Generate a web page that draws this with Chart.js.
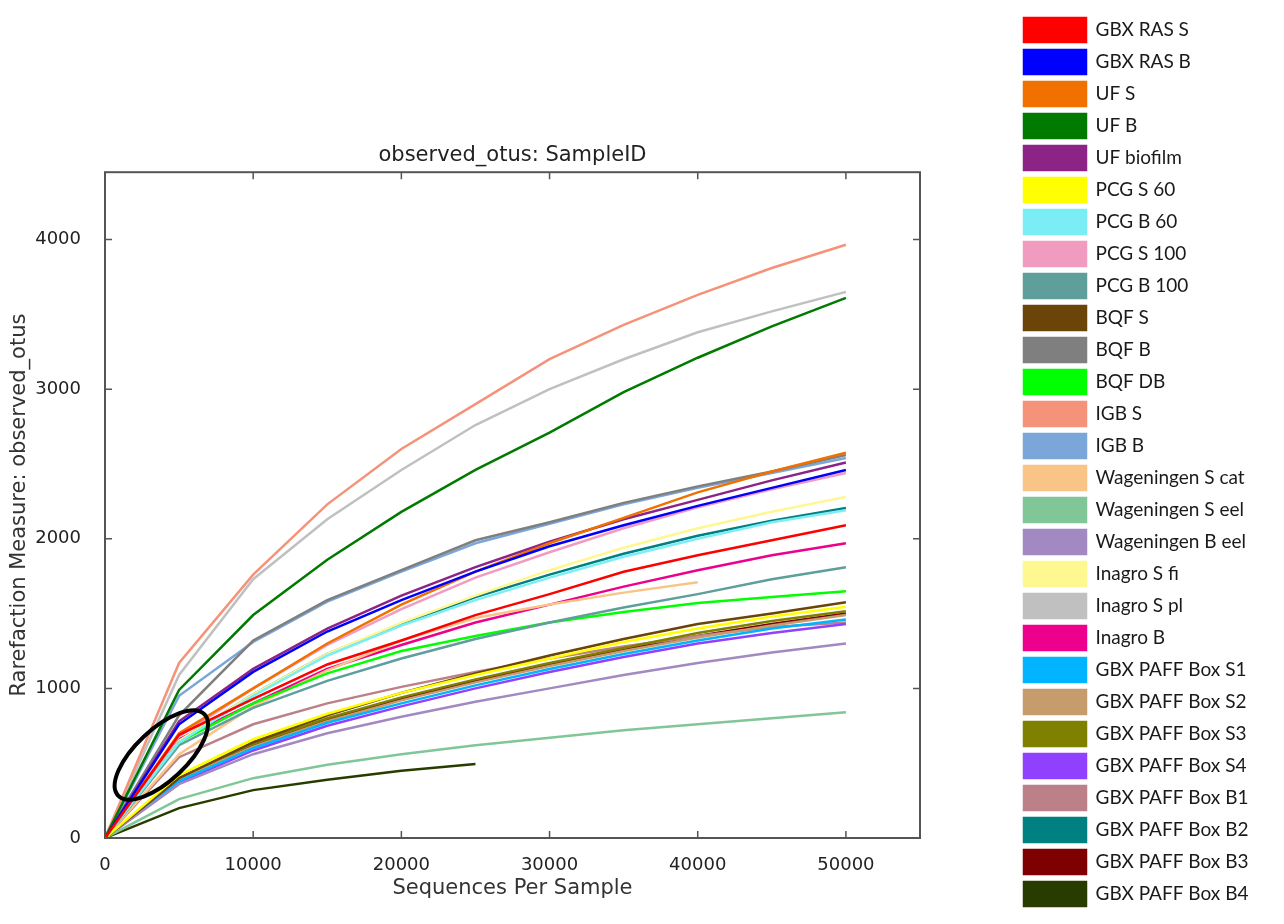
<!DOCTYPE html>
<html>
<head>
<meta charset="utf-8">
<title>observed_otus: SampleID</title>
<script src="https://cdn.jsdelivr.net/npm/chart.js@4.4.1/dist/chart.umd.min.js"></script>
<style>
    html, body { margin: 0; padding: 0; background: #fff; }
    #wrap { width: 1284px; height: 924px; position: relative; }
</style>
</head>
<body>
<div id="wrap"><canvas id="rarefaction"></canvas></div>
<script>
// --- Data ---
const seqDepth = [0, 5000, 10000, 15000, 20000, 25000, 30000, 35000, 40000, 45000, 50000];

const sampleNames = [
    'GBX RAS S', 'GBX RAS B', 'UF S', 'UF B', 'UF biofilm', 'PCG S 60', 'PCG B 60',
    'PCG S 100', 'PCG B 100', 'BQF S', 'BQF B', 'BQF DB', 'IGB S', 'IGB B',
    'Wageningen S cat', 'Wageningen S eel', 'Wageningen B eel', 'Inagro S fi',
    'Inagro S pl', 'Inagro B', 'GBX PAFF Box S1', 'GBX PAFF Box S2', 'GBX PAFF Box S3',
    'GBX PAFF Box S4', 'GBX PAFF Box B1', 'GBX PAFF Box B2', 'GBX PAFF Box B3', 'GBX PAFF Box B4'
];

const sampleColors = [
    '#ff0000', '#0000ff', '#f07000', '#007b00', '#8b2486', '#ffff00', '#7beef5',
    '#f29bc1', '#5e9e9b', '#6b4409', '#7f7f7f', '#00ff00', '#f5937a', '#7aa6d9',
    '#fac487', '#80c697', '#a389c2', '#fff78f', '#c0c0c0', '#ec008c',
    '#00b4ff', '#c69c6d', '#808000', '#9040ff', '#bc8088', '#008080', '#7f0000', '#283c00'
];

// observed OTUs per sample, one value per depth in seqDepth
const gbxRasS      = [0, 690, 930, 1160, 1320, 1490, 1630, 1780, 1890, 1990, 2090];
const gbxRasB      = [0, 760, 1110, 1380, 1590, 1780, 1950, 2090, 2220, 2340, 2460];
const ufS          = [0, 700, 1000, 1300, 1560, 1780, 1970, 2140, 2310, 2450, 2575];
const ufB          = [0, 990, 1490, 1860, 2180, 2460, 2710, 2980, 3210, 3420, 3610];
const ufBiofilm    = [0, 780, 1130, 1400, 1620, 1810, 1980, 2130, 2260, 2390, 2510];
const pcgS60       = [0, 420, 660, 830, 970, 1090, 1200, 1310, 1400, 1480, 1545];
const pcgB60       = [0, 640, 950, 1220, 1420, 1590, 1740, 1880, 2000, 2110, 2190];
const pcgS100      = [0, 680, 1000, 1290, 1530, 1740, 1910, 2070, 2210, 2330, 2440];
const pcgB100      = [0, 620, 870, 1050, 1200, 1330, 1440, 1540, 1630, 1730, 1810];
const bqfS         = [0, 400, 640, 820, 970, 1100, 1220, 1330, 1430, 1500, 1575];
const bqfB         = [0, 820, 1320, 1590, 1790, 1990, 2110, 2240, 2350, 2450, 2560];
const bqfDB        = [0, 640, 900, 1100, 1250, 1350, 1440, 1510, 1570, 1610, 1650];
const igbS         = [0, 1170, 1760, 2230, 2600, 2900, 3200, 3430, 3630, 3810, 3965];
const igbB         = [0, 950, 1310, 1580, 1780, 1970, 2100, 2230, 2340, 2440, 2540];
const wagSCat      = [0, 560, 880, 1120, 1320, 1470, 1560, 1640, 1710];
const wagSEel      = [0, 260, 400, 490, 560, 620, 670, 720, 760, 800, 840];
const wagBEel      = [0, 360, 560, 700, 810, 910, 1000, 1090, 1170, 1240, 1300];
const inagroSFi    = [0, 650, 960, 1230, 1440, 1620, 1790, 1940, 2070, 2180, 2280];
const inagroSPl    = [0, 1090, 1730, 2130, 2460, 2760, 3000, 3200, 3380, 3520, 3650];
const inagroB      = [0, 660, 900, 1130, 1290, 1440, 1560, 1680, 1790, 1890, 1970];
const paffS1       = [0, 380, 600, 770, 900, 1020, 1130, 1230, 1320, 1400, 1460];
const paffS2       = [0, 390, 610, 780, 920, 1040, 1150, 1250, 1340, 1420, 1490];
const paffS3       = [0, 400, 630, 800, 940, 1060, 1170, 1270, 1370, 1450, 1515];
const paffS4       = [0, 370, 585, 750, 880, 1000, 1110, 1210, 1300, 1370, 1430];
const paffB1       = [0, 540, 760, 900, 1010, 1110, 1200, 1280, 1350, 1410, 1440];
const paffB2       = [0, 650, 960, 1230, 1430, 1610, 1760, 1900, 2020, 2120, 2205];
const paffB3       = [0, 390, 615, 790, 930, 1050, 1160, 1260, 1350, 1430, 1500];
const paffB4       = [0, 200, 320, 390, 450, 495];

const sampleSeries = [
    gbxRasS, gbxRasB, ufS, ufB, ufBiofilm, pcgS60, pcgB60, pcgS100, pcgB100,
    bqfS, bqfB, bqfDB, igbS, igbB, wagSCat, wagSEel, wagBEel, inagroSFi,
    inagroSPl, inagroB, paffS1, paffS2, paffS3, paffS4, paffB1, paffB2, paffB3, paffB4
];

const yTicks = [0, 1000, 2000, 3000, 4000];
const xTicks = [0, 10000, 20000, 30000, 40000, 50000];

// --- Layout constants ---
const PLOT_RIGHT = 920;
const LEGEND_WIDTH = 268;
const tickFont = { family: "'DejaVu Sans', sans-serif", size: 18 };
const labelFont = { family: "'DejaVu Sans', sans-serif", size: 21 };

// --- Plugins: axes frame with inward ticks, and the hand-drawn ellipse ---
const framePlugin = {
    id: 'frame',
    afterDatasetsDraw(chart) {
        const { ctx, chartArea: a, scales } = chart;
        ctx.save();
        ctx.strokeStyle = '#555';
        ctx.lineWidth = 2;
        ctx.strokeRect(a.left, a.top, a.right - a.left, a.bottom - a.top);
        ctx.lineWidth = 1.5;
        ctx.beginPath();
        scales.x.ticks.forEach((t, i) => {
            const px = scales.x.getPixelForTick(i);
            ctx.moveTo(px, a.bottom); ctx.lineTo(px, a.bottom - 7);
            ctx.moveTo(px, a.top); ctx.lineTo(px, a.top + 7);
        });
        scales.y.ticks.forEach((t, i) => {
            const py = scales.y.getPixelForTick(i);
            ctx.moveTo(a.left, py); ctx.lineTo(a.left + 7, py);
            ctx.moveTo(a.right, py); ctx.lineTo(a.right - 7, py);
        });
        ctx.stroke();
        ctx.restore();
    }
};

const ellipsePlugin = {
    id: 'ellipseMark',
    afterDatasetsDraw(chart) {
        const { ctx, scales: { x, y } } = chart;
        const cx = x.getPixelForValue(3800);
        const cy = y.getPixelForValue(555);
        const rx = x.getPixelForValue(3800 + 4000) - cx;
        const ry = y.getPixelForValue(0) - y.getPixelForValue(170);
        ctx.save();
        ctx.strokeStyle = '#000';
        ctx.lineWidth = 4;
        ctx.beginPath();
        ctx.ellipse(cx, cy, rx, ry, -Math.PI * 0.24, 0, Math.PI * 2);
        ctx.stroke();
        ctx.restore();
    }
};

// legend in the reference is a fixed-width column on the far right
const legendWidthPlugin = {
    id: 'legendWidth',
    afterInit(chart) {
        const legend = chart.legend;
        if (!legend) return;
        const fit = legend.fit;
        legend.fit = function () {
            fit.call(this);
            if (!this.isHorizontal()) this.width = LEGEND_WIDTH;
        };
    }
};

// --- Datasets ---
const datasets = sampleNames.map((name, i) => ({
    label: name,
    data: sampleSeries[i].map((v, j) => ({ x: seqDepth[j], y: v })),
    borderColor: sampleColors[i],
    backgroundColor: sampleColors[i],
    borderWidth: 2.5,
    pointRadius: 0,
    tension: 0,
    fill: false
}));

const plainNumber = (v) => String(v);

// --- Chart ---
const chart = new Chart(document.getElementById('rarefaction'), {
    type: 'line',
    data: { datasets },
    options: {
        responsive: true,
        maintainAspectRatio: false,
        animation: false,
        layout: { padding: 0 },
        scales: {
            x: {
                type: 'linear',
                min: 0,
                max: 55000,
                grid: { display: false },
                border: { display: false },
                afterBuildTicks: (s) => { s.ticks = xTicks.map(v => ({ value: v })); },
                afterFit: (s) => { s.height = 86; },
                ticks: { font: tickFont, color: '#222', padding: 9, maxRotation: 0, callback: plainNumber },
                title: {
                    display: true,
                    text: 'Sequences Per Sample',
                    font: labelFont,
                    color: '#333',
                    padding: { top: 0, bottom: 23 }
                }
            },
            y: {
                min: 0,
                max: 4450,
                grid: { display: false },
                border: { display: false },
                afterBuildTicks: (s) => { s.ticks = yTicks.map(v => ({ value: v })); },
                afterFit: (s) => { s.width = 105; },
                ticks: { font: tickFont, color: '#222', padding: 16, callback: plainNumber },
                title: {
                    display: true,
                    text: 'Rarefaction Measure: observed_otus',
                    font: labelFont,
                    color: '#333',
                    padding: { top: 7, bottom: 0 }
                }
            },
            gap: {
                type: 'linear',
                position: 'right',
                grid: { display: false },
                border: { display: false },
                ticks: { display: false },
                afterFit: (s) => {
                    s.width = Math.max(0, s.chart.width - LEGEND_WIDTH - PLOT_RIGHT);
                }
            }
        },
        plugins: {
            title: {
                display: true,
                fullSize: false,
                text: 'observed_otus: SampleID',
                font: { family: "'DejaVu Sans', sans-serif", size: 21, weight: 'normal' },
                color: '#222',
                padding: { top: 143, bottom: 4 }
            },
            legend: {
                position: 'right',
                align: 'center',
                labels: {
                    boxWidth: 62,
                    boxHeight: 24,
                    padding: 8,
                    color: '#1a1a1a',
                    font: { family: "Lato, 'Open Sans', sans-serif", size: 19 }
                }
            },
            tooltip: { enabled: false }
        }
    },
    plugins: [framePlugin, ellipsePlugin, legendWidthPlugin]
});
</script>
</body>
</html>
